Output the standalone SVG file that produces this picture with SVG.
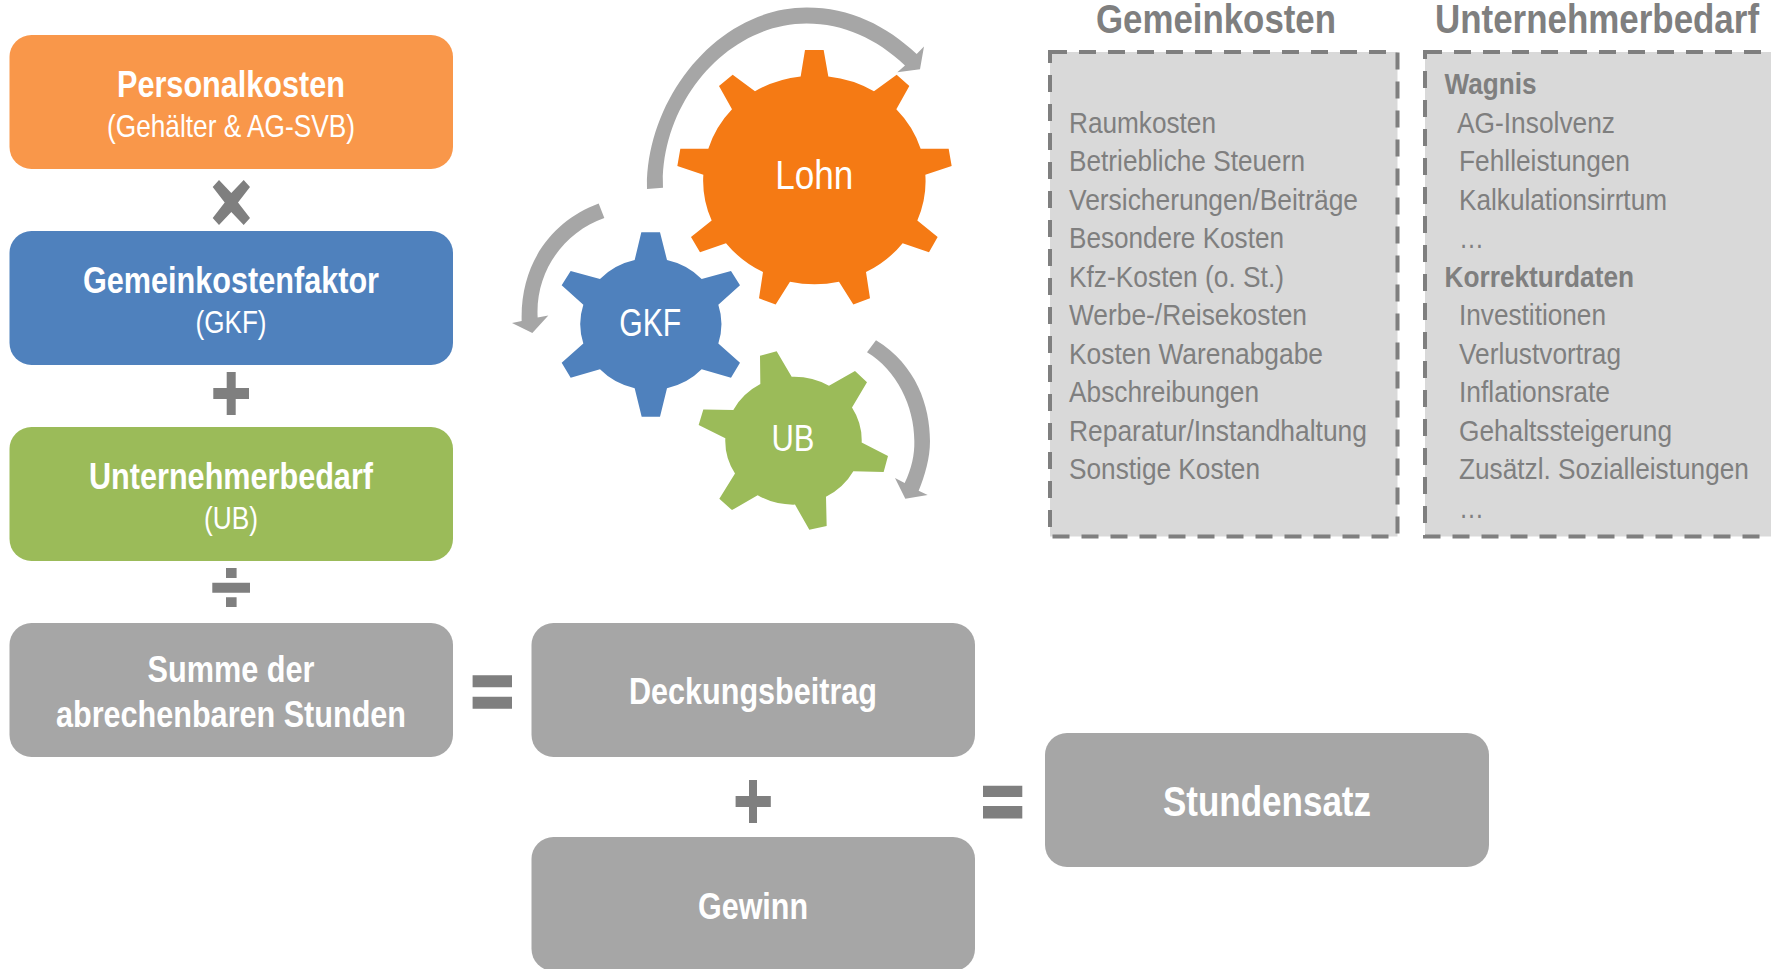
<svg xmlns="http://www.w3.org/2000/svg" width="1771" height="969" viewBox="0 0 1771 969">
<style>
text{font-family:"Liberation Sans",Arial,sans-serif}
.c{text-anchor:middle}
.w{fill:#fff}
.b{font-weight:bold}
.t{font-size:36px}
.s{font-size:32px}
.l{font-size:30px;fill:#7f7f7f}
.h{font-size:40px;font-weight:bold;fill:#7f7f7f}
.op{fill:#7f7f7f}
.arr{fill:#a6a6a6}
.grey{fill:#a6a6a6}
.list{fill:#d9d9d9;stroke:#7f7f7f;stroke-width:4;stroke-dasharray:17 12}
</style>
<rect width="1771" height="969" fill="#fff"/>

<g id="node-personalkosten">
<rect x="9.5" y="35" width="443.5" height="134" rx="22" fill="#f9974a"/>
<text class="c w b t" x="231" y="96.7" textLength="228" lengthAdjust="spacingAndGlyphs">Personalkosten</text>
<text class="c w s" x="231" y="136.7" textLength="248" lengthAdjust="spacingAndGlyphs">(Gehälter &amp; AG-SVB)</text>
</g>
<g id="node-gemeinkostenfaktor">
<rect x="9.5" y="231" width="443.5" height="134" rx="22" fill="#4f81bd"/>
<text class="c w b t" x="231" y="292.7" textLength="296" lengthAdjust="spacingAndGlyphs">Gemeinkostenfaktor</text>
<text class="c w s" x="231" y="332.7" textLength="71" lengthAdjust="spacingAndGlyphs">(GKF)</text>
</g>
<g id="node-unternehmerbedarf">
<rect x="9.5" y="427" width="443.5" height="134" rx="22" fill="#9bbb59"/>
<text class="c w b t" x="231" y="488.7" textLength="284" lengthAdjust="spacingAndGlyphs">Unternehmerbedarf</text>
<text class="c w s" x="231" y="528.7" textLength="54" lengthAdjust="spacingAndGlyphs">(UB)</text>
</g>
<g id="node-summe">
<rect class="grey" x="9.5" y="623" width="443.5" height="134" rx="22"/>
<text class="c w b t" x="231" y="681.7" textLength="167" lengthAdjust="spacingAndGlyphs">Summe der</text>
<text class="c w b t" x="231" y="726.7" textLength="350" lengthAdjust="spacingAndGlyphs">abrechenbaren Stunden</text>
</g>
<g id="node-deckungsbeitrag">
<rect class="grey" x="531.5" y="623" width="443.5" height="134" rx="22"/>
<text class="c w b t" x="753" y="704" textLength="248" lengthAdjust="spacingAndGlyphs">Deckungsbeitrag</text>
</g>
<g id="node-gewinn">
<rect class="grey" x="531.5" y="837" width="443.5" height="134" rx="22"/>
<text class="c w b t" x="753" y="919" textLength="110" lengthAdjust="spacingAndGlyphs">Gewinn</text>
</g>
<g id="node-stundensatz">
<rect class="grey" x="1045" y="733" width="444" height="134" rx="22"/>
<text class="c w b" style="font-size:42px" x="1267" y="816" textLength="208" lengthAdjust="spacingAndGlyphs">Stundensatz</text>
</g>

<g id="operators">
<polygon class="op" points="219,180 231.3,193 243.7,180 250,187 238,202.5 250,218 243.7,225 231.3,212 219,225 212.7,218 224.7,202.5 212.7,187"/>
<path class="op" d="M226.7 372h9v16H249v11H235.700v16h-9V399H213.300V388H226.700Z"/>
<path class="op" d="M226 568h10.600v10H226ZM212.300 582.700H250v10H212.300ZM226 597.300h10.600V607H226Z"/>
<path class="op" d="M472.600 675.300H512v12H472.600ZM472.600 696.700H512v12H472.600Z"/>
<path class="op" d="M749 780h8v16h13.800v11H757v16h-8V807H735.600V796H749Z"/>
<path class="op" d="M983 785.700h39.300V797H983ZM983 806h39.300v12.500H983Z"/>
</g>

<g id="node-gear-lohn">
<path fill="#f57a14" transform="translate(500 0) scale(.33333 .34444)" d="M915 145H971L985 222A332 300 0 0 1 1122 265L1190 217L1228 250L1189 317A332 300 0 0 1 1262 432H1346L1355 482L1276 507A332 300 0 0 1 1252 640L1313 688L1287 732L1208 706A332 300 0 0 1 1098 790L1110 866L1060 884L1017 818A332 300 0 0 1 870 818L827 884L777 866L789 790A332 300 0 0 1 678 706L600 732L573 688L635 640A332 300 0 0 1 610 507L532 482L541 432H625A332 300 0 0 1 696 317L657 250L698 217L765 265A332 300 0 0 1 902 222Z"/>
<text class="c w" style="font-size:41px" x="814.200" y="189.400" textLength="78" lengthAdjust="spacingAndGlyphs">Lohn</text>
</g>
<g id="node-gear-gkf">
<path fill="#4f81bd" transform="translate(500 0) scale(.33333 .34444)" d="M424 674H480L501 755A208 190 0 0 1 605 810L693 787L720 828L655 885A208 190 0 0 1 655 997L720 1053L693 1097L605 1072A208 190 0 0 1 501 1127L480 1210H425L404 1127A208 190 0 0 1 300 1072L212 1097L185 1053L250 997A208 190 0 0 1 250 885L185 828L212 787L300 810A208 190 0 0 1 404 755Z"/>
<text class="c w" style="font-size:38px" x="650.300" y="335.800" textLength="62" lengthAdjust="spacingAndGlyphs">GKF</text>
</g>
<g id="node-gear-ub">
<path fill="#9bbb59" transform="translate(500 0) scale(.33333 .34444)" d="M780 1033L830 1020L875 1094A205 185 0 0 1 987 1120L1065 1077L1101 1110L1056 1183A205 185 0 0 1 1085 1285L1164 1324L1151 1370L1060 1368A205 185 0 0 1 978 1442L980 1527L928 1538L885 1465A205 185 0 0 1 773 1438L696 1481L658 1448L705 1375A205 185 0 0 1 676 1272L596 1234L610 1189L700 1190A205 185 0 0 1 781 1115Z"/>
<text class="c w" style="font-size:36px" x="793" y="451" textLength="43" lengthAdjust="spacingAndGlyphs">UB</text>
</g>

<g id="connectors">
<path class="arr" transform="translate(500 0) scale(.33333 .34444)" d="M441 549C436 290 650 22 920 22C1050 22 1160 75 1250 157L1272 135L1260 201L1192 210L1215 190C1130 112 1030 68 920 68C680 68 480 300 489 545Z"/>
<path class="arr" transform="translate(500 0) scale(.33333 .34444)" d="M296 591C160 640 60 760 65 932L36 938L97 967L145 916L113 922C105 790 190 675 313 633Z"/>
<path class="arr" transform="translate(500 0) scale(.33333 .34444)" d="M1128 988C1250 1060 1290 1180 1290 1280C1290 1330 1275 1380 1256 1425L1283 1437L1216 1448L1185 1388L1214 1402C1235 1360 1244 1320 1243 1280C1243 1180 1190 1075 1101 1023Z"/>
</g>

<g id="node-gemeinkosten-list">
<text class="c" x="1216" y="33" style="font-size:40px;font-weight:bold;fill:#7f7f7f" textLength="240" lengthAdjust="spacingAndGlyphs">Gemeinkosten</text>
<rect class="list" x="1050" y="52" width="347.500" height="484.500"/>
<text class="l" x="1069" y="132.700" textLength="147" lengthAdjust="spacingAndGlyphs">Raumkosten</text>
<text class="l" x="1069" y="171.200" textLength="236" lengthAdjust="spacingAndGlyphs">Betriebliche Steuern</text>
<text class="l" x="1069" y="209.700" textLength="289" lengthAdjust="spacingAndGlyphs">Versicherungen/Beiträge</text>
<text class="l" x="1069" y="248.200" textLength="215" lengthAdjust="spacingAndGlyphs">Besondere Kosten</text>
<text class="l" x="1069" y="286.700" textLength="215" lengthAdjust="spacingAndGlyphs">Kfz-Kosten (o. St.)</text>
<text class="l" x="1069" y="325.200" textLength="238" lengthAdjust="spacingAndGlyphs">Werbe-/Reisekosten</text>
<text class="l" x="1069" y="363.700" textLength="254" lengthAdjust="spacingAndGlyphs">Kosten Warenabgabe</text>
<text class="l" x="1069" y="402.200" textLength="190" lengthAdjust="spacingAndGlyphs">Abschreibungen</text>
<text class="l" x="1069" y="440.700" textLength="298" lengthAdjust="spacingAndGlyphs">Reparatur/Instandhaltung</text>
<text class="l" x="1069" y="479.200" textLength="191" lengthAdjust="spacingAndGlyphs">Sonstige Kosten</text>
</g>
<g id="node-unternehmerbedarf-list">
<text class="c" transform="translate(1597 33) scale(.8 1)" style="font-size:40px;font-weight:bold;fill:#7f7f7f" textLength="405" lengthAdjust="spacingAndGlyphs">Unternehmerbedarf</text>
<rect class="list" x="1425" y="52" width="360" height="484.500"/>
<text class="l b" x="1444.500" y="94.200" textLength="92" lengthAdjust="spacingAndGlyphs">Wagnis</text>
<text class="l" x="1457" y="132.700" textLength="158" lengthAdjust="spacingAndGlyphs">AG-Insolvenz</text>
<text class="l" x="1459" y="171.200" textLength="171" lengthAdjust="spacingAndGlyphs">Fehlleistungen</text>
<text class="l" x="1459" y="209.700" textLength="208" lengthAdjust="spacingAndGlyphs">Kalkulationsirrtum</text>
<text class="l" x="1459" y="248.200" textLength="25" lengthAdjust="spacingAndGlyphs">…</text>
<text class="l b" x="1444.500" y="286.700" textLength="189.500" lengthAdjust="spacingAndGlyphs">Korrekturdaten</text>
<text class="l" x="1459" y="325.200" textLength="147" lengthAdjust="spacingAndGlyphs">Investitionen</text>
<text class="l" x="1459" y="363.700" textLength="162" lengthAdjust="spacingAndGlyphs">Verlustvortrag</text>
<text class="l" x="1459" y="402.200" textLength="151" lengthAdjust="spacingAndGlyphs">Inflationsrate</text>
<text class="l" x="1459" y="440.700" textLength="213" lengthAdjust="spacingAndGlyphs">Gehaltssteigerung</text>
<text class="l" transform="translate(1459 479.200) scale(.85 1)" textLength="341" lengthAdjust="spacingAndGlyphs">Zusätzl. Sozialleistungen</text>
<text class="l" x="1459" y="517.700" textLength="25" lengthAdjust="spacingAndGlyphs">…</text>
</g>
</svg>
